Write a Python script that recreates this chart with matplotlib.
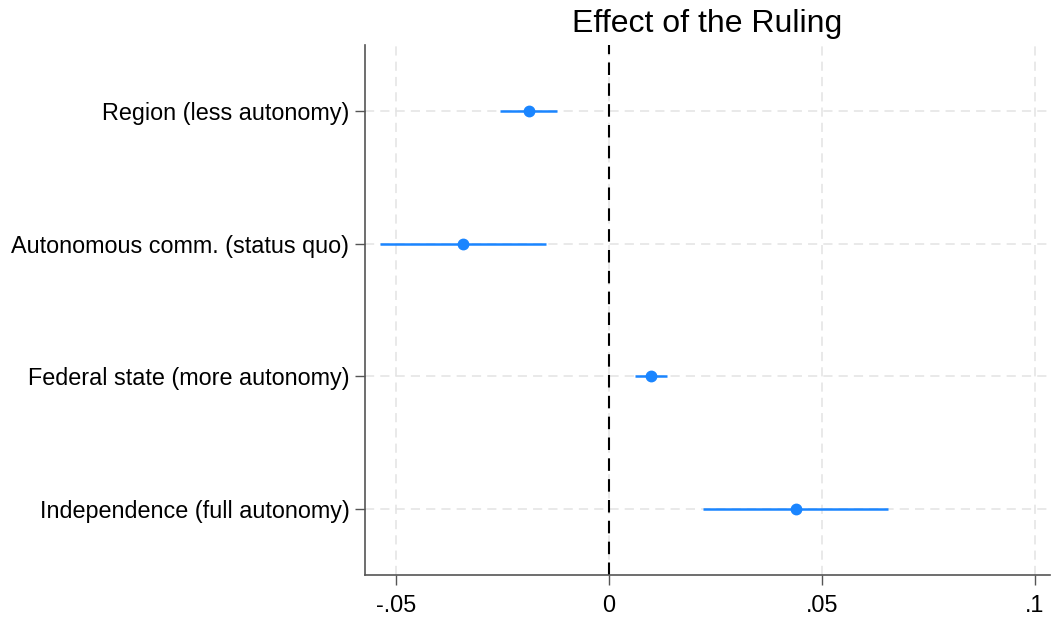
import matplotlib.pyplot as plt

# --- data ---
labels = [
    "Region (less autonomy)",
    "Autonomous comm. (status quo)",
    "Federal state (more autonomy)",
    "Independence (full autonomy)",
]
estimates = [-0.0188, -0.0343, 0.0099, 0.0439]
ci_low = [-0.0256, -0.0538, 0.0061, 0.0221]
ci_high = [-0.0122, -0.0148, 0.0136, 0.0655]
xticks = [-0.05, 0, 0.05, 0.1]
xticklabels = ["-.05", "0", ".05", ".1"]

BLUE = "#1a85ff"

plt.rcParams["font.family"] = ["Liberation Sans", "DejaVu Sans"]

fig = plt.figure(figsize=(10.51, 6.19), dpi=100)
ax = fig.add_axes([0.347, 0.071, 0.652, 0.856])

ypos = list(range(1, len(labels) + 1))

# grid
for xt in xticks:
    ax.axvline(xt, color="#e3e3e3", lw=1.1, ls=(0, (6, 4)), zorder=0)
for y in ypos:
    ax.axhline(y, color="#e3e3e3", lw=1.1, ls=(0, (6, 4)), zorder=0)

# zero reference
ax.axvline(0, color="black", lw=1.5, ls=(0, (6, 4)), zorder=1)

ax.hlines(ypos, ci_low, ci_high, color=BLUE, lw=1.8, zorder=2)
ax.plot(estimates, ypos, "o", color=BLUE, ms=7.5, zorder=3)

ax.set_xlim(-0.0573, 0.1035)
ax.set_ylim(4.5, 0.5)
ax.set_yticks(ypos)
ax.set_yticklabels(labels, fontsize=16.8)
ax.set_xticks(xticks)
ax.set_xticklabels(xticklabels, fontsize=16.8)

ax.tick_params(axis="both", length=7, width=1, color="#555555", pad=4)
ax.tick_params(axis="x", pad=7)
for s in ["top", "right"]:
    ax.spines[s].set_visible(False)
for s in ["left", "bottom"]:
    ax.spines[s].set_color("#555555")
    ax.spines[s].set_linewidth(1.2)

fig.text(0.673, 0.962, "Effect of the Ruling", ha="center", va="center", fontsize=23)

fig.savefig("out.png", dpi=100, facecolor="white")
